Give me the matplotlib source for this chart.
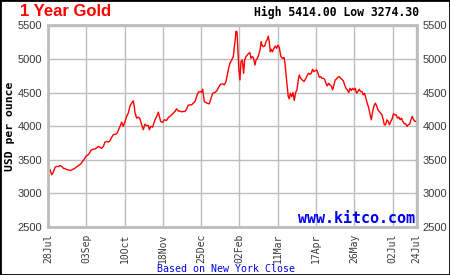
import matplotlib
matplotlib.use("Agg")
import matplotlib.pyplot as plt
from matplotlib.patches import Rectangle

# trading-day index and price (USD/oz)
day = [0.0, 1.4, 2.5, 3.6, 4.8, 5.9, 7.0, 8.1, 9.3, 10.4, 11.5, 12.7, 13.8, 15.4, 16.5,
       17.9, 19.0, 20.6, 22.2, 23.5, 24.7, 25.8, 26.9, 28.1, 29.2, 30.3, 31.9, 33.0,
       34.2, 35.3, 36.4, 37.6, 38.7, 39.8, 41.0, 42.1, 43.2, 44.3, 45.5, 46.6, 47.7,
       48.9, 50.0, 51.1, 52.3, 53.4, 54.5, 55.7, 56.8, 57.9, 58.6, 59.0, 60.2, 61.3,
       62.4, 63.6, 64.7, 65.8, 67.0, 68.1, 68.8, 69.7, 71.0, 72.6, 73.8, 74.9, 75.6,
       76.5, 77.8, 79.0, 80.5, 81.7, 82.8, 83.9, 85.1, 86.2, 87.3, 88.5, 89.6, 90.7,
       91.9, 93.0, 94.1, 95.2, 96.4, 97.5, 98.6, 99.8, 100.9, 102.0, 103.2, 104.3,
       105.0, 106.1, 107.9, 109.5, 110.6, 111.8, 113.3, 114.5, 116.1, 117.2, 118.6,
       119.7, 120.8, 121.7, 122.6, 123.5, 124.7, 125.8, 126.5, 127.1, 127.6, 128.3,
       128.9, 129.6, 130.3, 131.0, 131.9, 132.8, 133.5, 134.4, 135.3, 136.2, 137.1,
       137.8, 138.5, 139.4, 140.5, 141.2, 142.1, 143.0, 143.9, 144.8, 145.2, 146.2,
       147.1, 148.0, 148.9, 149.5, 150.2, 150.9, 151.6, 152.4, 153.4, 154.3, 155.2,
       156.1, 157.0, 158.1, 159.3, 160.2, 160.9, 161.5, 162.2, 163.1, 163.8, 164.5,
       165.4, 166.3, 167.2, 168.1, 169.0, 169.9, 170.6, 171.5, 172.6, 173.8, 174.7,
       175.6, 176.7, 177.8, 178.7, 179.6, 180.5, 181.4, 182.4, 183.3, 184.2, 185.1,
       186.0, 186.9, 187.8, 188.7, 189.6, 190.5, 191.4, 192.3, 193.2, 194.1, 195.0,
       195.9, 196.8, 197.7, 198.6, 199.5, 200.5, 201.4, 202.3, 203.2, 204.1, 205.0,
       205.9, 206.8, 207.7, 208.6, 209.5, 210.4, 211.3, 212.2, 213.1, 214.0, 214.9,
       215.8, 216.7, 217.6, 218.6, 219.5, 220.4, 221.3, 222.2, 223.1, 224.0, 224.9,
       225.8, 226.7, 227.6, 228.3, 229.2, 230.1, 230.9, 231.8, 232.7, 233.6, 234.5,
       235.4, 236.4, 237.3, 238.2, 239.1, 240.0, 240.9, 241.9, 242.8, 243.7, 244.6,
       245.5, 246.4, 247.3, 248.2, 249.1, 250.2]

price = [3337, 3352, 3274, 3312, 3386, 3400, 3396, 3410, 3400, 3371, 3366, 3352, 3347,
         3337, 3352, 3366, 3386, 3410, 3436, 3475, 3510, 3550, 3565, 3594, 3639, 3654,
         3659, 3673, 3698, 3683, 3668, 3698, 3762, 3772, 3762, 3782, 3832, 3871, 3876,
         3886, 3936, 3995, 4060, 3995, 4070, 4144, 4193, 4302, 4342, 4376, 4292, 4203,
         4119, 4134, 4109, 4020, 3946, 4030, 4005, 4010, 3946, 3995, 3985, 4094, 4144,
         4208, 4144, 4070, 4055, 4094, 4084, 4129, 4144, 4168, 4193, 4218, 4258, 4223,
         4223, 4213, 4218, 4218, 4253, 4312, 4317, 4317, 4342, 4366, 4441, 4505, 4515,
         4505, 4550, 4366, 4342, 4332, 4406, 4490, 4500, 4525, 4589, 4624, 4629, 4614,
         4664, 4762, 4861, 4936, 4985, 5035, 5183, 5282, 5414, 5406, 5134, 4837, 4688,
         4960, 4985, 4787, 4985, 5035, 5059, 5084, 5094, 5010, 5035, 5025, 4911, 4985,
         5010, 5059, 5134, 5258, 5208, 5183, 5193, 5258, 5292, 5342, 5258, 5109, 5144,
         5109, 5159, 5193, 5159, 5208, 5174, 5035, 5010, 5025, 4936, 4787, 4639, 4440,
         4406, 4490, 4440, 4500, 4381, 4500, 4540, 4688, 4762, 4713, 4688, 4664, 4698,
         4738, 4787, 4772, 4787, 4846, 4812, 4827, 4837, 4787, 4728, 4738, 4713, 4713,
         4698, 4639, 4599, 4639, 4614, 4599, 4540, 4614, 4688, 4703, 4728, 4738, 4713,
         4698, 4674, 4614, 4564, 4540, 4500, 4564, 4530, 4564, 4540, 4564, 4490, 4515,
         4550, 4515, 4515, 4465, 4490, 4416, 4342, 4282, 4178, 4094, 4218, 4302, 4342,
         4302, 4243, 4218, 4193, 4168, 4094, 4020, 4020, 4094, 4070, 4020, 4070, 4109,
         4183, 4168, 4168, 4119, 4134, 4094, 4119, 4070, 4035, 4035, 3995, 4020, 4030,
         4094, 4144, 4094, 4070, 4070]

tick_days = [0, 26, 52, 78, 104, 130, 156, 182, 208, 234, 250]
tick_labels = ["28Jul", "03Sep", "10Oct", "18Nov", "25Dec", "02Feb", "11Mar",
               "17Apr", "26May", "02Jul", "24Jul"]
y_ticks = [2500, 3000, 3500, 4000, 4500, 5000, 5500]

title = "1 Year Gold"
stats = "High 5414.00 Low 3274.30"

grid_c = "#bdbdbd"
lab_c = "#3a3a3a"

fig = plt.figure(figsize=(4.5, 2.75), dpi=100)
ax = fig.add_axes([48 / 450, 1 - 226.7 / 275, (416.7 - 48) / 450, (226.7 - 25.5) / 275])

ax.plot(day, price, color="#ff0000", lw=1.0)
ax.set_xlim(0, 250.3)
ax.set_ylim(2500, 5500)
ax.set_xticks(tick_days)
ax.set_xticklabels(tick_labels, rotation=90, family="DejaVu Sans Mono",
                   fontsize=7, color=lab_c)
ax.set_yticks(y_ticks)
ax.set_yticklabels([str(v) for v in y_ticks], family="Liberation Sans",
                   fontsize=8, color=lab_c)
ax.tick_params(axis="both", length=0, pad=5)
ax.tick_params(axis="y", labelright=True, pad=4)
ax.grid(True, color=grid_c, lw=1.0)
ax.set_axisbelow(True)
for s in ax.spines.values():
    s.set_color(grid_c)
    s.set_linewidth(2)

ax.set_ylabel("USD per ounce", family="DejaVu Sans Mono", fontweight="bold",
              fontsize=8.2, color="black", labelpad=2)
ax.yaxis.set_label_coords(-33 / 368.7, 0.5)

fig.text(20 / 450, 1 - 12 / 275, title, color="#ff0000", fontsize=12,
         fontweight="bold", family="Liberation Sans", va="center", ha="left")
fig.text(419 / 450, 1 - 12 / 275, stats, color="black", fontsize=8.3,
         fontweight="bold", family="DejaVu Sans Mono", va="center", ha="right")
ax.text(0.995, 0.005, "www.kitco.com", transform=ax.transAxes, color="#0000ee",
        fontsize=10.8, fontweight="bold", family="DejaVu Sans Mono",
        ha="right", va="bottom")
fig.text(226 / 450, 1 - 269 / 275, "Based on New York Close", color="#0000ee",
         fontsize=7.2, family="DejaVu Sans Mono", ha="center", va="center")

fig.patches.append(Rectangle((0, 0), 1, 1, transform=fig.transFigure,
                             fill=False, edgecolor="black", lw=2))

fig.savefig("out.png", dpi=100)
